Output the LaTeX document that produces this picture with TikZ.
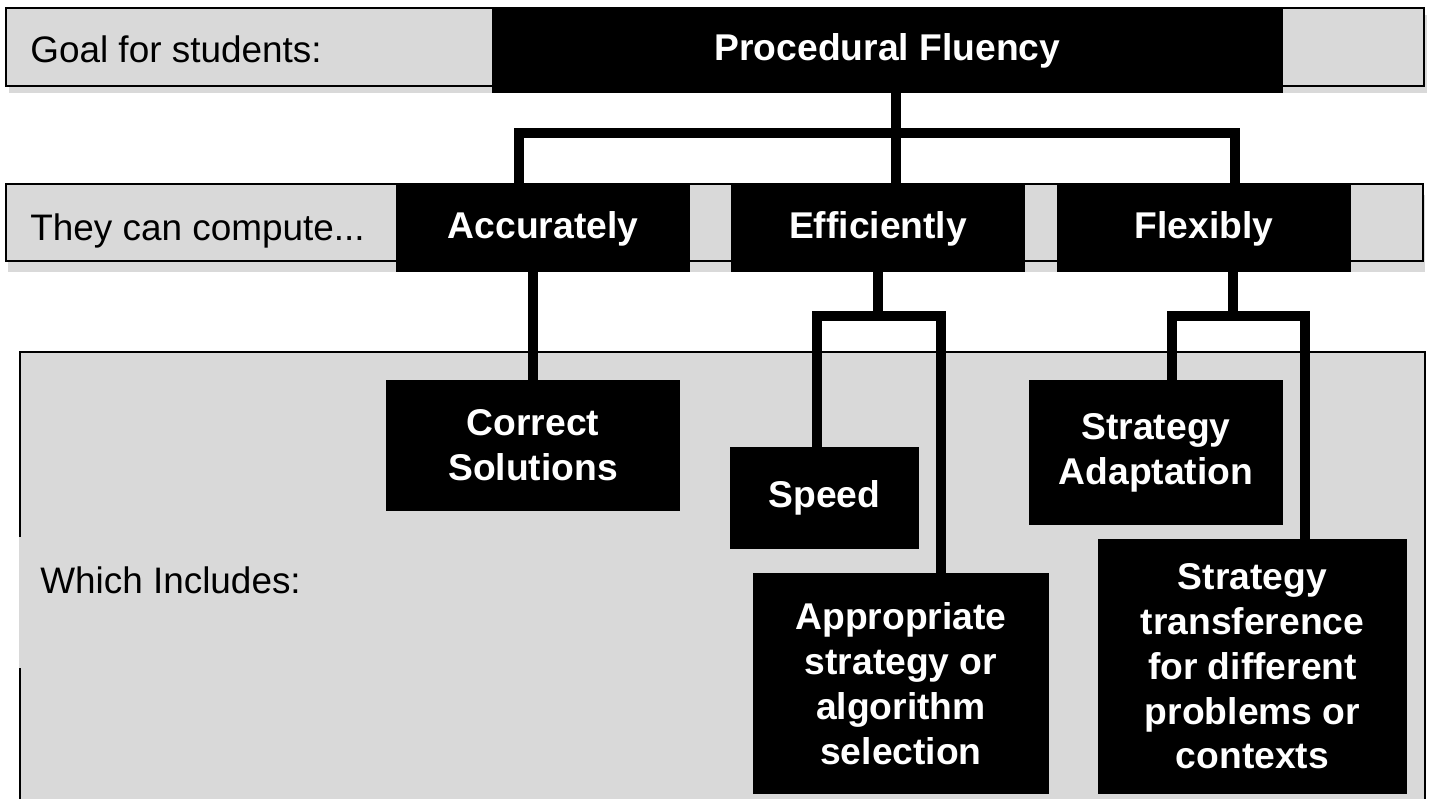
\documentclass[tikz,border=0pt]{standalone}
\usepackage{fontspec}
\setmainfont{Liberation Sans}
\definecolor{bandgray}{gray}{0.85}
\begin{document}
\begin{tikzpicture}[x=0.02cm,y=-0.02cm,
        band/.style={draw=black,line width=0.9pt,fill=bandgray},
        tag/.style={anchor=base west,inner sep=0pt,font=\fontsize{21}{25.5}\selectfont},
        darkbox/.style={fill=black,text=white,inner sep=0pt,align=center,font=\fontsize{21.2}{25.5}\selectfont\bfseries},
        link/.style={line width=0.19cm,line join=miter}]
        \useasboundingbox (0,0) rectangle (1430,798);
        % grey bands
        \fill[bandgray] (9,15) rectangle (1427,93);
        \draw[band] (6,8) rectangle (1424,86);
        \fill[bandgray] (8,195) rectangle (1425,272);
        \draw[band] (6,184) rectangle (1423,261);
        \draw[band] (20,805) -- (20,352) -- (1425,352) -- (1425,805);
        \fill[bandgray] (19.3,537) rectangle (22,668);
        \node[tag] (goal) at (30,62) {Goal for students:};
        \node[tag] (they) at (30,240) {They can compute...};
        \node[tag] (which) at (40,593) {Which Includes:};
        % junctions
        \coordinate (jA) at (519,133);
        \coordinate (jM) at (896,133);
        \coordinate (jF) at (1235,133);
        \coordinate (eL) at (817,316);
        \coordinate (eR) at (941,316);
        \coordinate (fL) at (1172,316);
        \coordinate (fM) at (1233,316);
        \coordinate (fR) at (1305,316);
        % boxes
        \node[darkbox,minimum width=15.82cm,minimum height=1.7cm] (pf) at (887.5,50.5) {Procedural Fluency};
        \node[darkbox,minimum width=5.88cm,minimum height=1.74cm] (acc) at (543,228.5) {Accurately};
        \node[darkbox,minimum width=5.88cm,minimum height=1.74cm] (eff) at (878,228.5) {Efficiently};
        \node[darkbox,minimum width=5.88cm,minimum height=1.74cm] (flex) at (1204,228.5) {Flexibly};
        \node[darkbox,minimum width=5.88cm,minimum height=2.62cm] (corr) at (533,445.5) {Correct\\Solutions};
        \node[darkbox,minimum width=3.78cm,minimum height=2.04cm] (speed) at (824.5,498) {\raisebox{0.1cm}{Speed}};
        \node[darkbox,minimum width=5.08cm,minimum height=2.9cm] (adapt) at (1156,452.5) {Strategy\\Adaptation};
        \node[darkbox,minimum width=5.92cm,minimum height=4.42cm] (appr) at (901,683.5) {Appropriate\\strategy or\\algorithm\\selection};
        \node[darkbox,minimum width=6.18cm,minimum height=5.1cm] (trans) at (1252.5,666.5) {Strategy\\transference\\for different\\problems or\\contexts};
        % connectors
        \draw[link] (pf.south -| jM) -- (eff.north -| jM);
        \draw[link] (acc.north -| jA) -- (jA) -- (jF) -- (flex.north -| jF);
        \draw[link] (acc.south -| corr.north) -- (corr.north);
        \draw[link] (eff.south) -- (eff.south |- eL);
        \draw[link] (speed.north -| eL) -- (eL) -- (eR) -- (appr.north -| eR);
        \draw[link] (flex.south -| fM) -- (fM);
        \draw[link] (adapt.north -| fL) -- (fL) -- (fR) -- (trans.north -| fR);
    \end{tikzpicture}
\end{document}
